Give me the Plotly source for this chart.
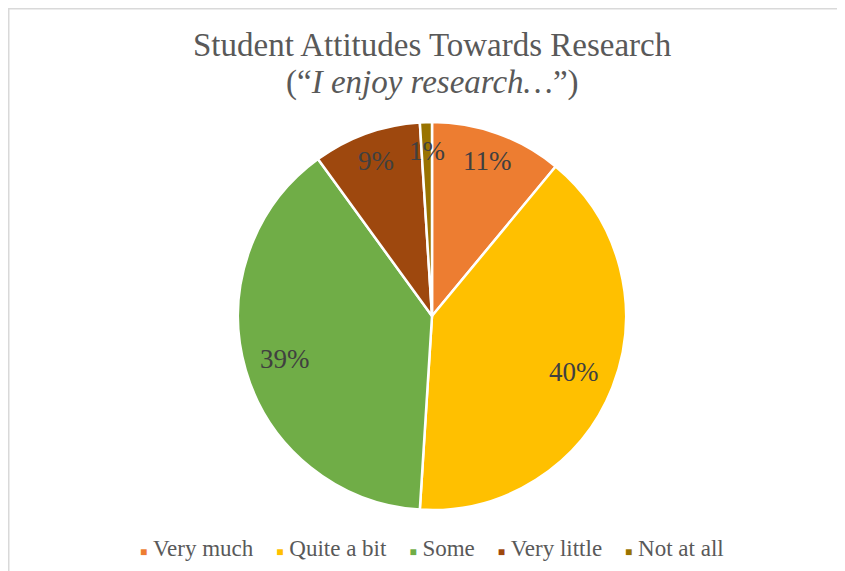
import math
import plotly.graph_objects as go

categories = ["Very much", "Quite a bit", "Some", "Very little", "Not at all"]
shares = [11, 40, 39, 9, 1]
slice_colors = ["#ED7D31", "#FFC000", "#70AD47", "#9E480E", "#997300"]
title_lines = ["Student Attitudes Towards Research", "(“<i>I enjoy research…</i>”)"]

W, H = 845, 571
CX, CY, R = 424, 308, 194  # pie centre / radius in figure pixels
SERIF = "Liberation Serif"


def px2paper(x, y):
    return x / W, 1 - y / H


fig = go.Figure()
fig.add_trace(go.Pie(
    labels=categories, values=shares, sort=False, direction="clockwise",
    rotation=0, marker=dict(colors=slice_colors, line=dict(color="white", width=2.5)),
    textinfo="none", hoverinfo="label+percent", showlegend=False,
    domain=dict(x=[(CX - R) / W, (CX + R) / W], y=[1 - (CY + R) / H, 1 - (CY - R) / H]),
))

# percentage labels along each slice's mid angle, Excel style
total = sum(shares)
cum = 0
for v in shares:
    mid = (cum + v / 2) / total * 2 * math.pi
    cum += v
    rf = 0.85 if v / total < 0.2 else 0.79
    x, y = px2paper(CX + rf * R * math.sin(mid), CY - rf * R * math.cos(mid))
    fig.add_annotation(x=x, y=y, xref="paper", yref="paper", xanchor="center", yanchor="middle",
                       text=f"{round(v / total * 100)}%", showarrow=False,
                       font=dict(family=SERIF, size=27, color="#404040"))

# title, two lines set tight like the original
for i, line in enumerate(title_lines):
    x, y = px2paper(CX, 37 + i * 37)
    fig.add_annotation(x=x, y=y, xref="paper", yref="paper", xanchor="center", yanchor="middle",
                       text=line, showarrow=False,
                       font=dict(family=SERIF, size=33, color="#595959"))

# legend row: small coloured squares next to the names
items = [f'<span style="color:{c};font-size:12px">■</span>&nbsp;{name}'
         for name, c in zip(categories, slice_colors)]
x, y = px2paper(CX, 540)
fig.add_annotation(x=x, y=y, xref="paper", yref="paper", xanchor="center", yanchor="middle",
                   text="&nbsp;&nbsp;&nbsp;&nbsp;".join(items), showarrow=False,
                   font=dict(family=SERIF, size=23, color="#595959"))

fig.add_shape(type="rect", xref="paper", yref="paper",
              x0=0.5 / W, x1=1.2, y0=-0.2, y1=1 - 0.5 / H,
              line=dict(color="#D9D9D9", width=2))

fig.update_layout(
    width=W, height=H, margin=dict(l=0, r=0, t=0, b=0),
    paper_bgcolor="white", plot_bgcolor="white",
)

fig.write_html("out.html")
